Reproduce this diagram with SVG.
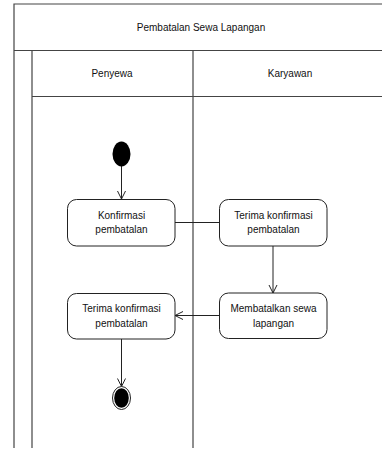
<svg xmlns="http://www.w3.org/2000/svg" width="382" height="450" viewBox="0 0 382 450">
<style>
.frame{stroke:#444;stroke-width:1.2;fill:none}
.t{font-family:"Liberation Sans",Arial,sans-serif;font-size:10px;fill:#111;text-anchor:middle}
.act{fill:#fff;stroke:#222;stroke-width:1}
.c{stroke:#222;stroke-width:1;fill:none}
</style>
<defs>
<marker id="arr" markerWidth="10" markerHeight="10" refX="9" refY="5" orient="auto" markerUnits="userSpaceOnUse">
<path d="M1,1 L9,5 L1,9" fill="none" stroke="#222" stroke-width="1"/>
</marker>
</defs>
<rect width="382" height="450" fill="#fff"/>
<g id="swimlanes">
<path class="frame" d="M14,448 V4 H382 M14,50.5 H382 M32,50.5 V448 M32,96.5 H382 M193,50.5 V448"/>
<text class="t" x="201" y="31">Pembatalan Sewa Lapangan</text>
<text class="t" x="112" y="77">Penyewa</text>
<text class="t" x="290" y="77">Karyawan</text>
</g>
<g id="connectors">
<path class="c" d="M121.5,166 V199" marker-end="url(#arr)"/>
<path class="c" d="M175,222.5 H219"/>
<path class="c" d="M273,246 V293" marker-end="url(#arr)"/>
<path class="c" d="M219,315.5 H175" marker-end="url(#arr)"/>
<path class="c" d="M121.5,339 V386.5" marker-end="url(#arr)"/>
</g>
<g id="start">
<ellipse cx="121.5" cy="154" rx="9" ry="12.5" fill="#000"/>
</g>
<g id="konfirmasi">
<rect class="act" x="67.5" y="199.5" width="107.5" height="46.5" rx="9"/>
<text class="t" x="121.5" y="219">Konfirmasi</text>
<text class="t" x="121.5" y="233">pembatalan</text>
</g>
<g id="terima-karyawan">
<rect class="act" x="219.5" y="199.5" width="107.5" height="46.5" rx="9"/>
<text class="t" x="273.5" y="219">Terima konfirmasi</text>
<text class="t" x="273.5" y="233">pembatalan</text>
</g>
<g id="membatalkan">
<rect class="act" x="219.5" y="293" width="107.5" height="45.5" rx="9"/>
<text class="t" x="273.5" y="311.5">Membatalkan sewa</text>
<text class="t" x="273.5" y="326.5">lapangan</text>
</g>
<g id="terima-penyewa">
<rect class="act" x="67.5" y="293.5" width="107.5" height="45.5" rx="9"/>
<text class="t" x="121.5" y="312">Terima konfirmasi</text>
<text class="t" x="121.5" y="327">pembatalan</text>
</g>
<g id="end">
<ellipse cx="121.5" cy="398" rx="9" ry="11.5" fill="#fff" stroke="#222" stroke-width="1"/>
<ellipse cx="121.5" cy="398" rx="7.3" ry="9.8" fill="#000"/>
</g>
</svg>
